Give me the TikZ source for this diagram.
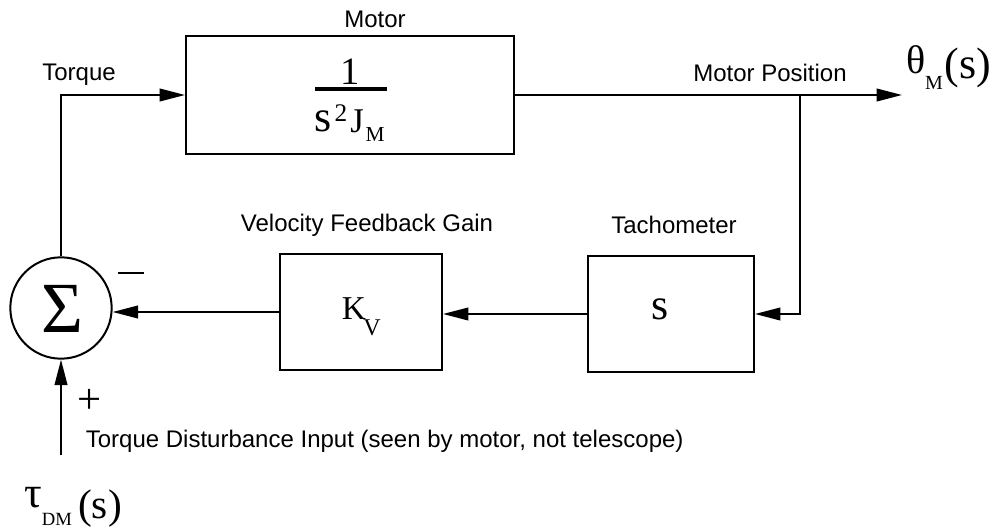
\documentclass[tikz,border=0pt]{standalone}
\usepackage{fontspec}
\setmainfont{Liberation Serif}
\setsansfont{Liberation Sans}
\usetikzlibrary{arrows.meta}
\newcommand{\fsz}[1]{\fontsize{#1}{#1}\selectfont}
\begin{document}
\begin{tikzpicture}[x=0.75pt,y=-0.75pt,
  line width=1.3pt,
  blk/.style={draw, line width=1.5pt, inner sep=0pt, rectangle},
  lbl/.style={font=\sffamily\fsz{18}, inner sep=0pt},
  sym/.style={inner sep=0pt, anchor=base},
  arr/.style={-{Triangle[length=19pt,width=9.5pt]}}
]
\useasboundingbox (0,0) rectangle (993,531);

% blocks
\node[blk, minimum width=246pt, minimum height=88.5pt] (motor) at (350,95) {};
\node[blk, minimum width=121.5pt, minimum height=87pt] (kv) at (361,312) {};
\node[blk, minimum width=124.5pt, minimum height=87pt] (tach) at (671,314) {};
\node[draw, circle, line width=1.5pt, minimum size=76pt, inner sep=0pt] (sum) at (61,308) {};

% motor transfer function
\node[sym, font=\fsz{29}] (one) at (350,85) {1};
\coordinate (barL) at (315,89);
\coordinate (barR) at (387,89);
\draw[line width=2.4pt] (barL) -- (barR);
\node[sym, font=\fsz{33}] (dens) at (323,132) {s};
\node[sym, font=\fsz{19}] (den2) at (341,122) {2};
\node[sym, font=\fsz{26}] (denj) at (357,133) {J};
\node[sym, font=\fsz{16}] (denm) at (375,142) {M};

% K_V
\node[sym, font=\fsz{25}] (kk) at (354,319) {K};
\node[sym, font=\fsz{18}] (kvv) at (372,335) {V};
% tachometer s
\node[sym, font=\fsz{33}] (stxt) at (660,320) {s};
% sigma
\node[font=\fsz{54}, inner sep=0pt] (sig) at (62,309) {Σ};

% coordinates
\coordinate (out) at (902,95);
\coordinate (br) at (800,95);
\coordinate (tin) at (61,455);

% connectors
\draw[arr] (sum.north) |- (motor.west);
\draw[arr] (motor.east) -- (out);
\draw[arr] (br) |- (tach.east);
\draw[arr] (tach.west) -- (kv.east |- tach.west);
\draw[arr] (kv.west) -- (kv.west -| sum.east);
\draw[arr] (tin) -- (sum.south);

% labels
\node[lbl] (lmotor) at (375,19) {Motor};
\node[lbl] (ltorque) at (79,75) {Torque};
\node[lbl] (lpos) at (770,73) {Motor Position};
\node[lbl] (lvel) at (367,225) {Velocity Feedback Gain};
\node[lbl] (ltach) at (674,225) {Tachometer};
\node[lbl, anchor=base west] (ldist) at (85,447) {Torque Disturbance Input (seen by motor, not telescope)};

% output theta_M(s)
\node[sym, font=\fsz{30}] (th) at (916,74) {θ};
\node[sym, font=\fsz{15}] (thm) at (934,90) {M};
\node[sym, font=\fsz{33}] (ths) at (968,79) {(s)};
% input tau_DM(s)
\node[sym, font=\fsz{33}] (ta) at (33,507) {τ};
\node[sym, font=\fsz{14}] (tadm) at (57,525) {DM};
\node[sym, font=\fsz{31}] (tas) at (100,518) {(s)};

% signs
\node[inner sep=0pt] (minus) at (131,273) {\rule{19pt}{1.4pt}};
\node[font=\fsz{32}, inner sep=0pt] (plus) at (90,401) {+};
\end{tikzpicture}
\end{document}
